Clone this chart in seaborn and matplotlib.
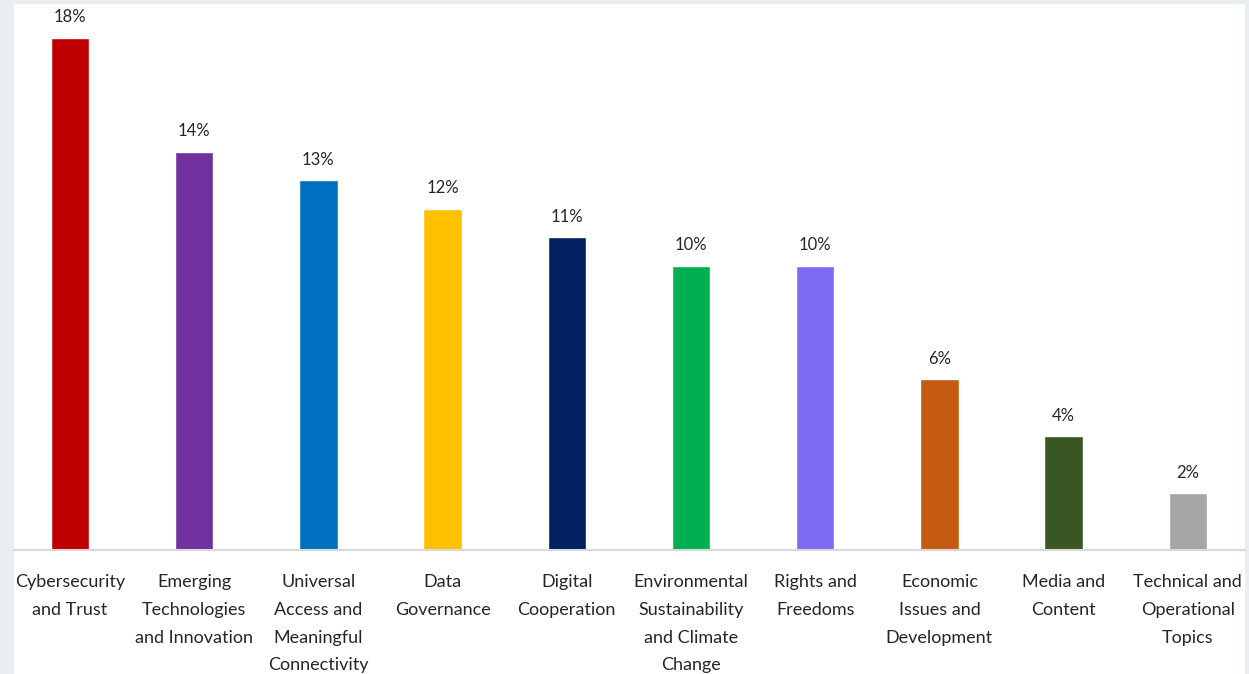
import matplotlib
matplotlib.use("Agg")
import matplotlib.pyplot as plt
import seaborn as sns
import pandas as pd
from matplotlib.patches import Rectangle

# chart data
topics = [
    "Cybersecurity and Trust",
    "Emerging Technologies and Innovation",
    "Universal Access and Meaningful Connectivity",
    "Data Governance",
    "Digital Cooperation",
    "Environmental Sustainability and Climate Change",
    "Rights and Freedoms",
    "Economic Issues and Development",
    "Media and Content",
    "Technical and Operational Topics",
]
tick_labels = [
    "Cybersecurity\nand Trust",
    "Emerging\nTechnologies\nand Innovation",
    "Universal\nAccess and\nMeaningful\nConnectivity",
    "Data\nGovernance",
    "Digital\nCooperation",
    "Environmental\nSustainability\nand Climate\nChange",
    "Rights and\nFreedoms",
    "Economic\nIssues and\nDevelopment",
    "Media and\nContent",
    "Technical and\nOperational\nTopics",
]
shares = [18, 14, 13, 12, 11, 10, 10, 6, 4, 2]
colors = [
    "#C00000", "#7030A0", "#0070C0", "#FFC000", "#002060",
    "#00B050", "#7B6CF2", "#C55A11", "#3A5623", "#A5A5A5",
]

df = pd.DataFrame({"topic": topics, "share": shares})

sns.set_style("white")
plt.rcParams["font.family"] = ["Lato", "DejaVu Sans"]

fig = plt.figure(figsize=(12.49, 6.74), dpi=100, facecolor="#e9eff0")
# white chart area over the light screenshot background
fig.patches.append(Rectangle((14 / 1249, 0), 1231 / 1249, 670 / 674,
                             transform=fig.transFigure, facecolor="white",
                             edgecolor="none", zorder=-5))
ax = fig.add_axes([14 / 1249, 124 / 674, 1231 / 1249, 512 / 674])
ax.set_facecolor("none")

sns.barplot(data=df, x="topic", y="share", hue="topic", order=topics,
            palette=colors, legend=False, width=0.31, saturation=1, ax=ax)

for cont in ax.containers:
    ax.bar_label(cont, fmt="{:.0f}%", padding=9, fontsize=12, color="#262626")

ax.set_xlim(-0.45, 9.46)
ax.set_ylim(0, 18)
ax.set_yticks([])
ax.set_xticks(range(len(topics)))
ax.set_xticklabels(tick_labels, fontsize=13, color="#262626", linespacing=1.9,
                   va="top")
ax.tick_params(axis="x", length=0, pad=17.5)
ax.set_xlabel("")
ax.set_ylabel("")
for s in ["top", "left", "right"]:
    ax.spines[s].set_visible(False)
ax.spines["bottom"].set_color("#d9d9d9")
ax.spines["bottom"].set_linewidth(1.5)

fig.savefig("out.png", dpi=100, facecolor=fig.get_facecolor())
